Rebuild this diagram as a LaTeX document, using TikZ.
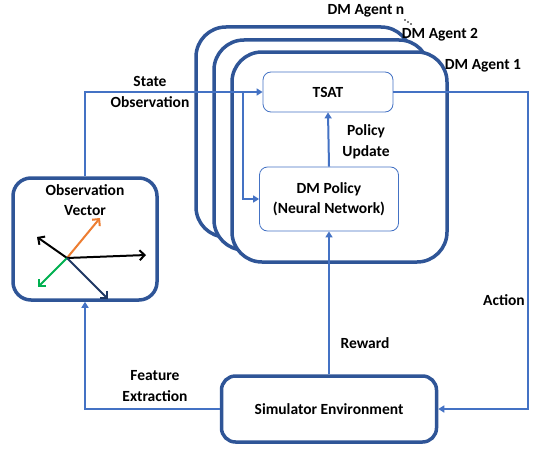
\documentclass[tikz,border=0pt]{standalone}
\usepackage{fontspec}
\setmainfont{Carlito}
\usetikzlibrary{arrows.meta}
\definecolor{conn}{HTML}{4472C4}
\definecolor{darkb}{HTML}{2F5597}
\definecolor{vorange}{HTML}{ED7D31}
\definecolor{vgreen}{HTML}{00B050}
\definecolor{vnavy}{HTML}{1F3864}
\begin{document}
\begin{tikzpicture}[x=1pt,y=-1pt,
  font=\fontsize{15.5}{20.5}\selectfont\bfseries,
  agentbox/.style={draw=darkb, line width=3.5pt, fill=white, rounded corners=30pt, minimum width=215pt, minimum height=210pt, inner sep=0pt},
  bigbox/.style={draw=darkb, line width=3.5pt, fill=white, rounded corners=14pt, inner sep=0pt},
  thinbox/.style={draw=conn, line width=0.8pt, fill=white, rounded corners=8pt, inner sep=0pt, align=center},
  connline/.style={draw=conn, line width=2pt},
  arr/.style={connline, -{Triangle[length=6pt,width=7pt]}},
  lbl/.style={align=center, inner sep=0pt},
  vec/.style={line width=2pt, -{Straight Barb[length=5pt,width=10pt]}}
]
\useasboundingbox (0,0) rectangle (534,452);
% agent boxes
\node[agentbox] (agn) at (303.5,132) {};
\node[agentbox] (ag2) at (321.5,145) {};
\node[agentbox] (ag1) at (339.5,157) {};
% labels of agents
\node[lbl] (lagn) at (366,11) {DM Agent n};
\fill (405,20) circle (0.8pt) (408,22) circle (0.8pt) (411,24) circle (0.8pt);
\node[lbl] (lag2) at (440,35) {DM Agent 2};
\node[lbl] (lag1) at (483,66) {DM Agent 1};
% inner boxes
\node[thinbox, minimum width=130pt, minimum height=40pt] (tsat) at (328,92) {TSAT};
\node[thinbox, minimum width=139pt, minimum height=64pt] (policy) at (329,199) {DM Policy\\(Neural Network)};
% observation vector box
\node[bigbox, rounded corners=18pt, minimum width=144pt, minimum height=122pt] (obs) at (85,239) {};
\node[lbl] (lobs) at (85,200) {Observation\\Vector};
% simulator
\node[bigbox, minimum width=215pt, minimum height=66pt] (sim) at (329,409) {Simulator Environment};
% vectors
\coordinate (vc) at (67,258);
\draw[vec, vorange] (vc) -- (100,218);
\draw[vec, black] (vc) -- (37,237);
\draw[vec, black] (vc) -- (146,255);
\draw[vec, vgreen] (vc) -- (38,287);
\draw[vec, vnavy] (vc) -- (108,299);
% connectors
\draw[arr] (obs.north) |- (tsat.west);
\coordinate (br) at (243,92);
\draw[arr] (br) |- (policy.west);
\draw[arr] (policy.north) -- (tsat.south);
\draw[arr] (sim.north) -- (policy.south);
\coordinate (ar) at (528,92);
\draw[arr] (tsat.east) -- (ar) |- (sim.east);
\draw[arr] (sim.west) -| (obs.south);
% connector labels
\node[lbl] (lstate) at (150,92) {State\\Observation};
\node[lbl] (lpol) at (366,142) {Policy\\Update};
\node[lbl] (lrew) at (365,343) {Reward};
\node[lbl] (lact) at (504,300) {Action};
\node[lbl] (lfeat) at (155,386) {Feature\\Extraction};
\end{tikzpicture}
\end{document}
